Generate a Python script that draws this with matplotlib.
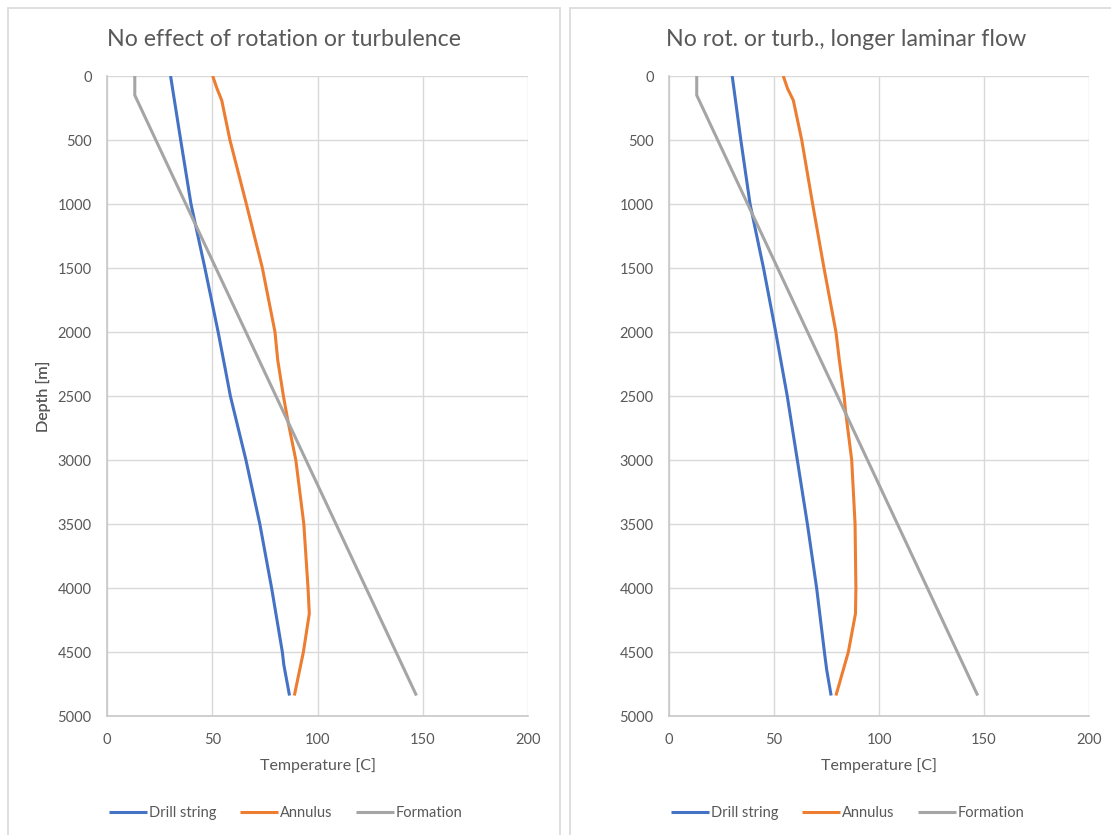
import matplotlib
matplotlib.use("Agg")
import matplotlib.pyplot as plt
from matplotlib.patches import Rectangle

plt.rcParams['font.family'] = ['Lato', 'DejaVu Sans']

# ---- data ----
titles = ["No effect of rotation or turbulence", "No rot. or turb., longer laminar flow"]
series_names = ["Drill string", "Annulus", "Formation"]
x_ticks = [0, 50, 100, 150, 200]
y_ticks = [0, 500, 1000, 1500, 2000, 2500, 3000, 3500, 4000, 4500, 5000]

# Left chart
ds_depth_L = [0, 500, 1000, 1500, 2000, 2300, 2500, 3000, 3500, 4000, 4500, 4600, 4840]
ds_temp_L = [30.2, 35.0, 39.9, 46.5, 52.8, 56.3, 58.6, 66.0, 72.6, 78.2, 83.3, 84.0, 86.7]
an_depth_L = [0, 100, 190, 500, 1000, 1500, 2000, 2219, 2500, 2700, 3000, 3500, 4000, 4200, 4500, 4840]
an_temp_L = [50.2, 52.3, 54.5, 58.4, 66.2, 73.8, 79.8, 81.1, 83.8, 86.0, 89.7, 93.5, 95.5, 96.1, 93.3, 89.0]
fm_depth_L = [0, 150, 4840]
fm_temp_L = [13.2, 13.2, 147.0]

# Right chart
ds_depth_R = [0, 500, 1000, 1500, 2000, 2500, 3000, 3500, 4000, 4500, 4640, 4840]
ds_temp_R = [30.1, 34.2, 38.6, 45.0, 50.8, 56.3, 61.1, 65.9, 70.3, 74.0, 75.1, 77.2]
an_depth_R = [0, 100, 190, 500, 1000, 1500, 2000, 2219, 2500, 2610, 3000, 3500, 4000, 4200, 4500, 4840]
an_temp_R = [54.4, 56.5, 59.2, 63.2, 68.4, 73.8, 79.5, 81.1, 83.4, 84.0, 87.0, 88.6, 89.0, 88.8, 85.4, 79.5]
fm_depth_R = [0, 150, 4840]
fm_temp_R = [13.2, 13.2, 147.0]

colors = ["#4472C4", "#ED7D31", "#A5A5A5"]
text_col = "#595959"
grid_col = "#D9D9D9"

W, H = 1111, 835
fig = plt.figure(figsize=(W / 100, H / 100), dpi=100)

def fx(px):
    return px / W

def fy(py):
    return 1 - py / H

panels = [
    dict(box=(8, 560), ax=(107, 528), title=titles[0],
         data=[(ds_temp_L, ds_depth_L), (an_temp_L, an_depth_L), (fm_temp_L, fm_depth_L)]),
    dict(box=(570, 1122), ax=(669, 1089), title=titles[1],
         data=[(ds_temp_R, ds_depth_R), (an_temp_R, an_depth_R), (fm_temp_R, fm_depth_R)]),
]

top_px, bot_px = 76, 716
for p in panels:
    bx0, bx1 = p['box']
    fig.patches.append(Rectangle((fx(bx0), -0.02), fx(bx1 - bx0), fy(8) + 0.02,
                                 transform=fig.transFigure, fill=False,
                                 edgecolor="#D9D9D9", linewidth=1.2, zorder=0))
    ax0, ax1 = p['ax']
    ax = fig.add_axes([fx(ax0), fy(bot_px), fx(ax1 - ax0), (bot_px - top_px) / H])
    for (t, d), c, n in zip(p['data'], colors, series_names):
        ax.plot(t, d, color=c, linewidth=2.2, label=n, solid_capstyle='butt')
    ax.set_xlim(0, 200)
    ax.set_ylim(5000, 0)
    ax.set_xticks(x_ticks)
    ax.set_yticks(y_ticks)
    ax.grid(True, color=grid_col, linewidth=1.0)
    ax.set_axisbelow(True)
    for s in ['top', 'right']:
        ax.spines[s].set_visible(False)
    for s in ['left', 'bottom']:
        ax.spines[s].set_color("#C8C8C8")
        ax.spines[s].set_linewidth(1.2)
    ax.tick_params(length=0, labelsize=10.5, labelcolor=text_col)
    ax.tick_params(axis='x', pad=12)
    ax.tick_params(axis='y', pad=11)
    ax.text(0.5, (bot_px - 766) / (bot_px - top_px), "Temperature [C]", transform=ax.transAxes,
            ha='center', va='center', fontsize=11.5, color=text_col)
    ax.text((44 - ax0) / (ax1 - ax0), 0.5, "Depth [m]", transform=ax.transAxes,
            ha='center', va='center', rotation=90, fontsize=11.5, color=text_col)
    cx = (bx0 + bx1) / 2
    fig.text(fx(cx), fy(40), p['title'], ha='center', va='center', fontsize=16.7, color=text_col)
    ax.legend(loc='center', bbox_to_anchor=(fx(cx + 2), fy(813)), bbox_transform=fig.transFigure,
              ncol=3, frameon=False, fontsize=10.5, labelcolor=text_col,
              handlelength=2.6, handletextpad=0.15, columnspacing=1.6)

fig.savefig("out.png", dpi=100)
